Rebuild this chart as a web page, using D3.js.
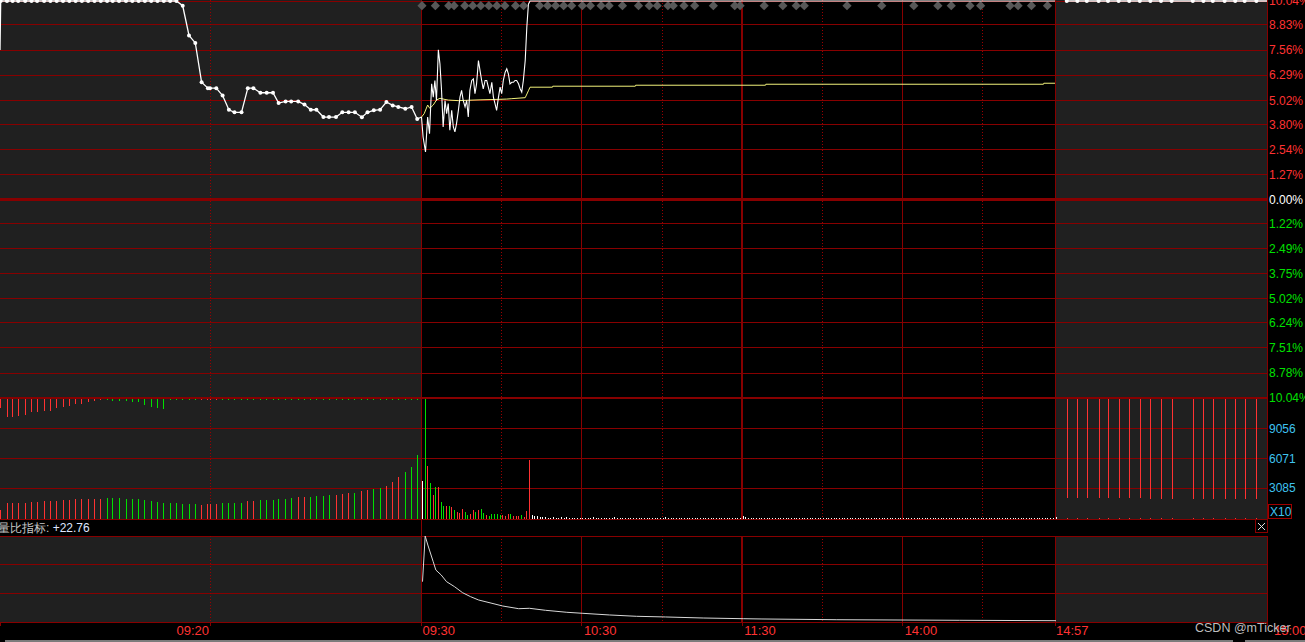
<!DOCTYPE html>
<html><head><meta charset="utf-8">
<script src="https://cdn.jsdelivr.net/npm/d3@7"></script>
<style>
html,body{margin:0;padding:0;background:#000;overflow:hidden}
svg{display:block}
text{font-family:Arial,"Liberation Sans",sans-serif}
</style></head><body>
<svg id="c" width="1305" height="642"></svg>
<script>
// ---------------- DATA ----------------
// right axis (price % change)
const priceTicks = [10.04, 8.83, 7.56, 6.29, 5.02, 3.80, 2.54, 1.27, 0, -1.22, -2.49, -3.75, -5.02, -6.24, -7.51, -8.78, -10.04];
const volumeTicks = [3085, 6071, 9056];
const volumeMax = 12041;
const xLabels = ["09:20", "09:30", "10:30", "11:30", "14:00", "14:57", "15:00"];

// pre-open call auction 09:15-09:25 (seconds after 09:15)
const preSeconds = [1,10,18,26,36,45,53,63,72,81,90,99,108,117,126,135,144,153,161,170,180,189,198,207,216,225,234,243,252,261,270,279,288,297,300,309,318,327,335,345,354,362,372,381,390,398,408,416,426,435,444,452,462,470,480,489,498,507,517,525,534,543,552,561,569,579,588,596];
const preStartPct = 7.56;
const prePrice = [10.04,10.04,10.04,10.04,10.04,10.04,10.04,10.04,10.04,10.04,10.04,10.04,10.04,10.04,10.04,10.04,10.04,10.04,10.04,10.04,10.04,10.04,10.04,10.04,10.04,10.04,10.04,10.04,10.04,9.80,8.30,7.92,5.93,5.63,5.63,5.63,5.26,4.54,4.41,4.41,5.63,5.63,5.40,5.40,5.40,4.88,4.96,4.96,4.96,4.80,4.54,4.54,4.17,4.17,4.17,4.41,4.41,4.41,4.16,4.41,4.51,4.54,4.93,4.76,4.68,4.59,4.68,4.07];
const preMatched = [900,1570,1570,1570,1570,1670,1670,1800,1800,1800,1900,1900,2000,2000,2000,2000,2000,2130,2130,2130,2000,2000,2000,1900,1800,1700,1630,1570,1570,1500,1470,1470,1400,1470,1470,1470,1630,1630,1630,1630,1800,1800,1900,1900,1900,2000,2000,2130,2170,2230,2230,2300,2300,2400,2400,2500,2570,2570,2830,2900,2970,3070,3300,3700,4170,4730,5170,6400];
const preMatchedColor = ["R","R","R","R","R","R","R","R","R","R","R","R","R","R","R","R","R","G","G","G","G","G","G","G","G","G","G","G","G","G","G","G","R","R","R","R","G","G","G","G","R","R","G","G","G","G","G","G","R","R","G","G","G","G","R","R","R","G","R","R","G","G","R","R","R","G","G","G"];
const preUnmatched = [900,1830,1830,1730,1660,1360,1360,1260,1260,900,840,770,570,570,370,240,170,-170,-240,-270,-270,-370,-370,-670,-840,-900,-1060,-100,-100,-100,-100,-100,100,100,100,100,-100,-100,-100,-100,-100,-100,-100,-100,-100,-100,-100,-100,-100,-100,-100,-100,-100,-100,-100,-100,-100,-100,-100,-100,-100,-100,-100,-100,-100,-100,-100,-100];

// continuous trading (minutes after 09:30, lunch removed)
const tradeMinutes = [0,0.6,1.5,2.3,3,3.8,4.4,5,5.6,6.3,6.9,7.5,8.1,8.8,9.4,10,10.6,11.3,11.9,12.5,13.1,13.8,14.4,15,15.6,16.3,16.9,17.5,18.1,18.8,19.4,20,20.6,21.3,21.9,22.5,23.1,23.8,24.4,25,25.6,26.3,26.9,27.5,28.1,28.8,29.4,30,30.6,31.3,31.9,32.5,33.1,33.8,34.4,35,35.6,36.3,36.9,37.5,38.1,38.8,39.4,40,40.6,237];
const tradePrice = [4.17,3.16,2.41,4.17,3.33,5.85,5.18,6.02,5.01,7.57,6.86,5.52,3.67,5.01,4.34,4.85,3.50,4.51,3.67,3.42,3.84,4.51,5.18,5.52,5.01,4.68,5.01,4.17,5.52,6.02,6.10,5.35,5.85,7.03,6.52,6.02,5.60,6.02,6.02,5.68,5.35,5.93,5.18,4.85,4.51,5.18,5.68,5.35,6.02,6.44,6.61,6.36,5.85,5.93,5.93,6.02,6.02,5.85,5.60,5.43,6.02,7.03,8.71,9.88,10.04,10.04];
const avgMinutes = [0,1,2.3,3.1,4.4,5.6,6.9,8.8,10,13.8,17.5,21.9,27.5,31.9,33.8,38.8,40,40.6,49,49.1,80,80.1,128.7,128.8,232.7,232.8,237];
const avgPrice = [4.17,4.34,4.78,4.61,4.78,5.03,5.12,5.06,5.03,5.00,5.02,5.04,5.06,5.08,5.10,5.15,5.50,5.68,5.68,5.73,5.73,5.78,5.78,5.83,5.83,5.88,5.88];
const markerMinutes = [0,5,10,12,16,19,22,25,28,31,35,38,44,47,50,53,56,60,63,67,70,75,81,85,88,92,94,98,102,109,117,119,128,135,140,143,159,172,184,193,198,205,209,220,223,228,234];
const tradeVolume = [3830,12040,5300,3570,2400,3170,3170,1700,1300,1300,1300,1170,900,700,570,1000,700,400,500,900,700,900,1000,570,400,330,500,500,500,400,400,300,500,500,300,300,300,400,200,800,5900,
 400,300,300,200,200,200,100,100,200,100,100,200,100,200,
 100,100,100,100,100,100,100,100,100,200,100,100,100,100,100,100,100,200,100,100,
 100,100,100,100,100,100,100,100,100,100,100,100,100,100,100,100,200,100,100,100,
 100,100,100,100,100,100,100,100,100,100,100,100,100,100,100,100,100,100,100,100,
 100,100,100,100,100,300,200,100,100,100,100,100,100,100,100,100,100,100,100,100,
 100,100,100,100,100,100,100,100,100,100,100,100,100,100,100,100,100,100,100,100,
 100,100,100,100,100,100,100,100,100,100,100,100,100,100,100,100,100,100,100,100,
 100,100,100,100,100,100,100,100,100,100,100,100,100,100,100,100,100,100,100,100,
 100,100,100,100,100,100,100,100,100,100,100,100,100,100,100,100,100,100,100,100,
 100,100,100,100,100,100,100,100,100,100,100,100,100,100,100,100,100,100,100,100,
 100,100,200];
const tradeVolColor = ["W","G","R","G","R","G","R","G","G","R","G","R","G","R","R","R","G","G","R","R","G","R","G","G","R","G","G","G","G","G","R","R","R","G","R","R","R","G","R","R","R"];

// volume-ratio indicator (量比)
const indMinutes = [0,1,2,4,5,7,9,12,15,18,21,26,30,36,40,46,54,60,70,80,91,105,120,127,155,201,237];
const indValues = [706,1506,1348,1056,910,823,706,618,513,443,385,327,280,233,240,205,170,152,123,100,88,70,58,53,40,30,22.76];
const indMax = 1506;

// closing call auction 14:57-15:00 (seconds after 14:57)
const postSeconds = [10,19,27,37,45,54,63,72,81,90,99,117,126,134,144,153,161,171];
const postPrice = [10.04,10.04,10.04,10.04,10.04,10.04,10.04,10.04,10.04,10.04,10.04,10.04,10.04,10.04,10.04,10.04,10.04,10.04];
const postUnmatched = [9900,9900,9900,9900,9900,9900,9900,9900,10000,10000,10000,10000,10000,10000,10000,10000,10000,10000];
const postMatched = [100,100,100,100,100,100,100,100,100,100,100,100,100,100,100,100,100,100];

// ---------------- DRAW ----------------
const RED = "#ff3232", GREEN = "#00e000", WHITE = "#ffffff", GRID = "#870000", CYAN = "#3fc3f0";
const colorOf = c => c === "R" ? RED : c === "G" ? GREEN : WHITE;

const svg = d3.select("#c");
const xPre = d3.scaleLinear().domain([0, 600]).range([0, 420]);
const xTr = d3.scaleLinear().domain([0, 237]).range([421.5, 1055]);
const xPost = d3.scaleLinear().domain([0, 180]).range([1055, 1267]);
const yP = d3.scaleLinear().domain([-10.04, 10.04]).range([398, 1]);
const yV = d3.scaleLinear().domain([0, volumeMax]).range([519, 398.5]);
const yI = d3.scaleLinear().domain([0, indMax]).range([622, 536]);

svg.append("rect").attr("width", 1305).attr("height", 642).attr("fill", "#000");

// gray auction backgrounds
const bgPanels = [[0, 519], [536, 622]];
bgPanels.forEach(([y0, y1]) => {
  svg.append("rect").attr("x", 0).attr("y", y0).attr("width", xTr(0) - 0.5).attr("height", y1 - y0).attr("fill", "#202020");
  svg.append("rect").attr("x", xPost(0)).attr("y", y0).attr("width", xPost(180) - xPost(0)).attr("height", y1 - y0).attr("fill", "#202020");
});

const grid = svg.append("g").attr("shape-rendering", "crispEdges");
// price horizontal grid
priceTicks.forEach(v => {
  const w = v === 0 ? 3 : (v === -10.04 ? 2.5 : 1);
  grid.append("line").attr("x1", 0).attr("x2", xPost(180)).attr("y1", yP(v)).attr("y2", yP(v))
    .attr("stroke", GRID).attr("stroke-width", w);
});
// volume grid
volumeTicks.concat([0]).forEach(v => {
  grid.append("line").attr("x1", 0).attr("x2", xPost(180)).attr("y1", yV(v)).attr("y2", yV(v)).attr("stroke", GRID);
});
// indicator grid
[0, indMax / 3, indMax * 2 / 3, indMax].forEach(v => {
  grid.append("line").attr("x1", 0).attr("x2", xPost(180)).attr("y1", yI(v)).attr("y2", yI(v)).attr("stroke", GRID);
});

// vertical lines
const vSeg = (x, dashed, w) => {
  [[0, 519], [536, 622]].forEach(([a, b]) => {
    grid.append("line").attr("x1", x).attr("x2", x).attr("y1", a).attr("y2", b)
      .attr("stroke", dashed ? "#9a0000" : GRID).attr("stroke-width", w || 1)
      .attr("stroke-dasharray", dashed ? "1,2" : null);
  });
};
vSeg(xPre(300), true);
vSeg(xTr(0), false);
[30, 90, 150, 210].forEach(m => vSeg(xTr(m), true));
[60, 180].forEach(m => vSeg(xTr(m), false));
vSeg(xTr(120), false, 2);
vSeg(xPost(0), false);
vSeg(xPost(180), false);
grid.append("line").attr("x1", xTr(0)).attr("x2", xTr(0)).attr("y1", 519).attr("y2", 536).attr("stroke", GRID);

// axis ticks below indicator
[0, xPre(300), xTr(0), xTr(60), xTr(120), xTr(180), xPost(0), xPost(180)].forEach(x => {
  grid.append("line").attr("x1", x).attr("x2", x).attr("y1", 622).attr("y2", 626).attr("stroke", GRID);
});

// ----- volume bars -----
const vb = svg.append("g").attr("shape-rendering", "crispEdges");
const barX = x => Math.floor(x);
const hangTop = yV(volumeMax);
// pre auction matched
preSeconds.forEach((s, i) => {
  vb.append("rect").attr("x", barX(xPre(s))).attr("width", 1)
    .attr("y", yV(preMatched[i])).attr("height", 519 - yV(preMatched[i]))
    .attr("fill", colorOf(preMatchedColor[i]));
  const u = preUnmatched[i];
  vb.append("rect").attr("x", barX(xPre(s))).attr("width", 1)
    .attr("y", hangTop).attr("height", Math.max(1, 519 - yV(Math.abs(u))))
    .attr("fill", u > 0 ? RED : GREEN);
});
// trading
tradeVolume.forEach((v, m) => {
  vb.append("rect").attr("x", barX(xTr(m) + 1)).attr("width", 1)
    .attr("y", yV(v)).attr("height", 519 - yV(v))
    .attr("fill", colorOf(tradeVolColor[m] || "W"));
});
// post auction
postSeconds.forEach((s, i) => {
  vb.append("rect").attr("x", barX(xPost(s) + 0.5)).attr("width", 1)
    .attr("y", hangTop).attr("height", 519 - yV(postUnmatched[i])).attr("fill", RED);
  vb.append("rect").attr("x", barX(xPost(s) + 0.5)).attr("width", 1)
    .attr("y", yV(postMatched[i])).attr("height", 519 - yV(postMatched[i])).attr("fill", RED);
});

// ----- trade markers (diamonds) -----
svg.append("g").selectAll("path").data(markerMinutes).join("path")
  .attr("d", m => { const x = xTr(m) + 0.5, y = 5.7, r = 4.6; return `M${x},${y-r}L${x+r},${y}L${x},${y+r}L${x-r},${y}Z`; })
  .attr("fill", "#585858");

// ----- price lines -----
const prePts = [[0, preStartPct]].concat(preSeconds.map((s, i) => [s, prePrice[i]]));
svg.append("path").datum(prePts)
  .attr("d", d3.line().x(d => xPre(d[0])).y(d => yP(d[1])))
  .attr("fill", "none").attr("stroke", WHITE).attr("stroke-width", 1.3);
svg.append("g").selectAll("circle").data(preSeconds).join("circle")
  .attr("cx", (s) => xPre(s)).attr("cy", (s, i) => yP(prePrice[i])).attr("r", 2).attr("fill", WHITE);
// connector pre -> trade
svg.append("line").attr("x1", xPre(preSeconds[preSeconds.length - 1])).attr("y1", yP(prePrice[prePrice.length - 1]))
  .attr("x2", xTr(0)).attr("y2", yP(tradePrice[0])).attr("stroke", WHITE).attr("stroke-width", 1.2);

const avgPts = avgMinutes.map((m, i) => [m, avgPrice[i]]);
svg.append("path").datum(avgPts)
  .attr("d", d3.line().x(d => xTr(d[0])).y(d => yP(d[1])))
  .attr("fill", "none").attr("stroke", "#f2f27a").attr("stroke-width", 1);
const trPts = tradeMinutes.map((m, i) => [m, tradePrice[i]]);
svg.append("path").datum(trPts)
  .attr("d", d3.line().x(d => xTr(d[0])).y(d => yP(d[1])))
  .attr("fill", "none").attr("stroke", WHITE).attr("stroke-width", 1.1);

const postPts = postSeconds.map((s, i) => [s, postPrice[i]]);
postPts.push([180, postPrice[postPrice.length - 1]]);
svg.append("path").datum(postPts)
  .attr("d", d3.line().x(d => xPost(d[0])).y(d => yP(d[1])))
  .attr("fill", "none").attr("stroke", WHITE).attr("stroke-width", 1.3);
svg.append("g").selectAll("circle").data(postSeconds).join("circle")
  .attr("cx", s => xPost(s)).attr("cy", (s, i) => yP(postPrice[i])).attr("r", 2).attr("fill", WHITE);

// ----- indicator -----
const indPts = indMinutes.map((m, i) => [m, indValues[i]]);
svg.append("path").datum(indPts)
  .attr("d", d3.line().x(d => xTr(d[0]) + 1).y(d => yI(d[1])))
  .attr("fill", "none").attr("stroke", "#d8d8d8").attr("stroke-width", 1);

// ----- right axis labels -----
const ax = svg.append("g").attr("font-size", 12);
priceTicks.forEach(v => {
  ax.append("text").attr("x", 1269).attr("y", yP(v)).attr("dy", "0.36em")
    .attr("fill", v > 0 ? RED : v < 0 ? GREEN : WHITE)
    .text(Math.abs(v).toFixed(2) + "%");
});
volumeTicks.forEach(v => {
  ax.append("text").attr("x", 1269).attr("y", yV(v)).attr("dy", "0.36em").attr("fill", CYAN).text(String(v));
});
svg.append("rect").attr("x", 1268.5).attr("y", 504.5).attr("width", 23).attr("height", 14)
  .attr("fill", "none").attr("stroke", "#a00000").attr("shape-rendering", "crispEdges");
svg.append("text").attr("x", 1270).attr("y", 516).attr("font-size", 12).attr("fill", CYAN).text("X10");

// close button
svg.append("rect").attr("x", 1255.5).attr("y", 519.5).attr("width", 12).attr("height", 13)
  .attr("fill", "#000").attr("stroke", "#8a0000").attr("shape-rendering", "crispEdges");
svg.append("path").attr("d", "M1258,523L1265,530M1265,523L1258,530").attr("stroke", "#e0e0e0").attr("stroke-width", 1);

// indicator title
const title = svg.append("text").attr("x", -2).attr("y", 532).attr("font-size", 12)
  .attr("font-family", "'Noto Sans CJK SC', sans-serif");
title.append("tspan").attr("fill", "#c8c8c8").text("量比指标: ");
title.append("tspan").attr("fill", "#dfe6ff").attr("font-family", "Arial, 'Liberation Sans', sans-serif")
  .text("+" + indValues[indValues.length - 1].toFixed(2));

// ----- x axis labels -----
const labelX = {
  "09:20": [xPre(300) - 1, "end"],
  "09:30": [xTr(0) + 1, "start"],
  "10:30": [xTr(60) + 2, "start"],
  "11:30": [xTr(120) + 2, "start"],
  "14:00": [xTr(180) + 2, "start"],
  "14:57": [xPost(0) + 1, "start"],
  "15:00": [xPost(180) + 7, "start"]
};
xLabels.forEach(l => {
  svg.append("text").attr("x", labelX[l][0]).attr("y", 635).attr("text-anchor", labelX[l][1])
    .attr("font-size", 13).attr("fill", RED).text(l);
});

// bottom scrollbar line
svg.append("rect").attr("x", 5).attr("y", 640).attr("width", 1228).attr("height", 2).attr("fill", "#7c7c7c");
svg.append("rect").attr("x", 1245).attr("y", 640).attr("width", 60).attr("height", 2).attr("fill", "#7c7c7c");

// watermark
svg.append("text").attr("x", 1195).attr("y", 632).attr("font-size", 12.5)
  .attr("font-family", "'Noto Sans', Arial, sans-serif").attr("fill", "#bdbdbd").text("CSDN @mTicker");
</script>
</body></html>
